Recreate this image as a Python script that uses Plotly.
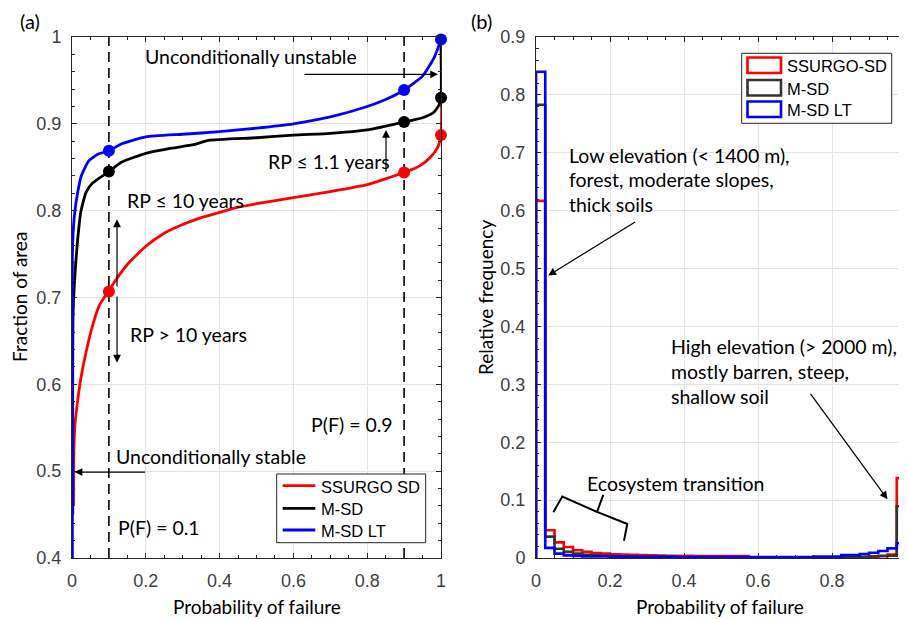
import numpy as np
import plotly.graph_objects as go

# window is 907x619; the page body has an 8px margin, so the figure is 8px smaller
OFF = 8
W, H = 907 - OFF, 619 - OFF

# ---------------- Panel (a): cumulative fraction of area ----------------
pf_ssurgo = [0.004, 0.005, 0.008, 0.015, 0.024, 0.038, 0.056, 0.074, 0.1, 0.125, 0.15, 0.2,
             0.25, 0.3, 0.35, 0.4, 0.45, 0.5, 0.6, 0.7, 0.8, 0.9, 0.94, 0.97, 0.99, 1.0, 1.0]
frac_ssurgo = [0.461, 0.522, 0.553, 0.580, 0.607, 0.637, 0.668, 0.691, 0.708, 0.724, 0.738, 0.759,
               0.774, 0.784, 0.792, 0.798, 0.804, 0.808, 0.815, 0.822, 0.830, 0.844, 0.851, 0.861,
               0.872, 0.887, 1.0]

pf_msd = [0.002, 0.003, 0.009, 0.015, 0.024, 0.038, 0.056, 0.1, 0.135, 0.2, 0.27, 0.33, 0.37, 0.5,
          0.6, 0.7, 0.8, 0.9, 0.95, 0.98, 0.995, 1.0, 1.0]
frac_msd = [0.45, 0.683, 0.733, 0.765, 0.799, 0.821, 0.832, 0.845, 0.856, 0.866, 0.872, 0.876, 0.881,
            0.884, 0.887, 0.889, 0.893, 0.902, 0.907, 0.913, 0.922, 0.930, 1.0]

pf_msdlt = [0.001, 0.001, 0.003, 0.008, 0.015, 0.025, 0.045, 0.07, 0.1, 0.135, 0.2, 0.3, 0.4, 0.5,
            0.6, 0.7, 0.8, 0.85, 0.9, 0.95, 0.98, 1.0, 1.0]
frac_msdlt = [0.40, 0.744, 0.775, 0.800, 0.820, 0.840, 0.857, 0.865, 0.869, 0.877, 0.885, 0.888,
              0.891, 0.895, 0.900, 0.908, 0.920, 0.928, 0.939, 0.955, 0.975, 0.997, 1.0]

pf_marks = [0.1, 0.9, 1.0]
marks_ssurgo = [0.707, 0.844, 0.887]
marks_msd = [0.845, 0.902, 0.930]
marks_msdlt = [0.869, 0.939, 0.997]

pf_thresholds = [0.1, 0.9]

# ---------------- Panel (b): histograms (stairs) ----------------
bin_width = 0.025
hist_ssurgo = [0.617, 0.048, 0.027, 0.019, 0.0135, 0.0105, 0.0085, 0.0075, 0.0065, 0.006,
               0.0055, 0.005, 0.0045, 0.0042, 0.004, 0.0038, 0.0036, 0.0035, 0.0035, 0.0035,
               0.0035, 0.0035, 0.0035, 0.001, 0.001, 0.001, 0.001, 0.001, 0.001, 0.001,
               0.001, 0.001, 0.001, 0.001, 0.001, 0.0015, 0.002, 0.003, 0.006, 0.138]
hist_msd = [0.783, 0.037, 0.016, 0.0105, 0.0075, 0.0055, 0.0045, 0.004, 0.0035, 0.003,
            0.0025, 0.0025, 0.0025, 0.0025, 0.0025, 0.001, 0.001, 0.001, 0.001, 0.001,
            0.001, 0.001, 0.001, 0.0007, 0.0007, 0.0007, 0.0007, 0.0007, 0.0007, 0.0007,
            0.0007, 0.0007, 0.0007, 0.001, 0.0015, 0.002, 0.003, 0.004, 0.004, 0.0895]
hist_msdlt = [0.84, 0.0175, 0.0076, 0.0045, 0.0035, 0.0028, 0.0026, 0.0025, 0.0024, 0.0023,
              0.0022, 0.0021, 0.002, 0.002, 0.002, 0.0018, 0.0017, 0.0016, 0.0016, 0.0015,
              0.0015, 0.0015, 0.0015, 0.0015, 0.0015, 0.0015, 0.0015, 0.0015, 0.0015, 0.0015,
              0.0023, 0.0023, 0.0023, 0.005, 0.005, 0.007, 0.009, 0.012, 0.0167, 0.0254]

RED, BLACK, BLUE = "#ff0000", "#000000", "#0000ff"
HBLACK = "#333333"
ANN_FONT = "Lato"
TICK_FONT = "Liberation Sans"


def px(x):
    return (x - OFF) / W


def py(y):
    return 1 - (y - OFF) / H


fig = go.Figure()

# dashed threshold lines
for t in pf_thresholds:
    fig.add_trace(go.Scatter(x=[t, t], y=[0.4, 1.0], mode="lines",
                             line=dict(color="black", width=1.6, dash="10px,6px"),
                             xaxis="x", yaxis="y", hoverinfo="skip"))

for xs, ys, col in [(pf_ssurgo, frac_ssurgo, RED),
                    (pf_msd, frac_msd, BLACK),
                    (pf_msdlt, frac_msdlt, BLUE)]:
    fig.add_trace(go.Scatter(x=xs, y=ys, mode="lines",
                             line=dict(color=col, width=2.8, shape="spline", smoothing=0.5),
                             xaxis="x", yaxis="y"))
for mk, col in [(marks_ssurgo, RED), (marks_msd, BLACK), (marks_msdlt, BLUE)]:
    fig.add_trace(go.Scatter(x=pf_marks, y=mk, mode="markers",
                             marker=dict(color=col, size=12, line=dict(width=0)),
                             xaxis="x", yaxis="y", cliponaxis=False))

# histogram stairs
nb = len(hist_ssurgo)
edges = [i * bin_width for i in range(nb + 1)]
for vals, col in [(hist_ssurgo, RED), (hist_msd, HBLACK), (hist_msdlt, BLUE)]:
    xs = [0.0] + edges
    ys = [0.0] + list(vals) + [0.0]
    fig.add_trace(go.Scatter(x=xs, y=ys, mode="lines", line=dict(color=col, width=2.6, shape="hv"),
                             xaxis="x2", yaxis="y2", cliponaxis=False))

axis_common = dict(showline=True, linecolor="#262626", linewidth=1, mirror="ticks",
                   ticks="inside", ticklen=5, tickcolor="#262626", tickwidth=1,
                   showgrid=True, gridcolor="#e3e3e3", gridwidth=1, zeroline=False,
                   tickfont=dict(family=TICK_FONT, size=18, color="#404040"),
                   ticklabelstandoff=6, automargin=False)

ydom = [py(558), py(37)]
fig.update_layout(
    width=W, height=H, margin=dict(l=0, r=0, t=0, b=0, autoexpand=False),
    paper_bgcolor="white", plot_bgcolor="white", showlegend=False,
    xaxis=dict(domain=[px(72), px(441)], range=[0, 1], dtick=0.2, anchor="y",
               minor=dict(ticks="inside", dtick=0.05, ticklen=3, tickcolor="#262626", showgrid=False),
               **axis_common),
    yaxis=dict(domain=ydom, range=[0.4, 1.0], dtick=0.1, anchor="x",
               minor=dict(ticks="inside", dtick=0.02, ticklen=3, tickcolor="#262626", showgrid=False),
               **axis_common),
    xaxis2=dict(domain=[px(536), px(906)], range=[0, 1], dtick=0.2, anchor="y2",
                minor=dict(ticks="inside", dtick=0.05, ticklen=3, tickcolor="#262626", showgrid=False),
                **axis_common),
    yaxis2=dict(domain=ydom, range=[0, 0.9], dtick=0.1, anchor="x2",
                minor=dict(ticks="inside", dtick=0.02, ticklen=3, tickcolor="#262626", showgrid=False),
                **axis_common),
)

anns = []


def text_ann(t, x, y, xref, yref, xanchor="left", yanchor="middle", size=19.5, angle=0, family=ANN_FONT):
    anns.append(dict(text=t, x=x, y=y, xref=xref, yref=yref, xanchor=xanchor, yanchor=yanchor,
                     showarrow=False, textangle=angle,
                     font=dict(family=family, size=size, color="black")))


def arrow(x0, y0, x1, y1, xr="x", yr="y"):
    anns.append(dict(text="", x=x1, y=y1, ax=x0, ay=y0, xref=xr, yref=yr, axref=xr, ayref=yr,
                     showarrow=True, arrowhead=2, arrowsize=1.3, arrowwidth=1.2, arrowcolor="black",
                     standoff=0, startstandoff=0))


# panel labels and axis titles
text_ann("(a)", px(30), py(21), "paper", "paper", xanchor="center", size=20)
text_ann("(b)", px(481), py(21), "paper", "paper", xanchor="center", size=20)
text_ann("Probability of failure", px(257), py(606), "paper", "paper", xanchor="center", size=19)
text_ann("Probability of failure", px(720), py(606), "paper", "paper", xanchor="center", size=19)
text_ann("Fraction of area", px(19), py(297), "paper", "paper", xanchor="center", size=19, angle=-90)
text_ann("Relative frequency", px(485), py(297), "paper", "paper", xanchor="center", size=19, angle=-90)

# panel (a) annotations
text_ann("Unconditionally unstable", 0.192, 0.978, "x", "y")
arrow(0.626, 0.957, 0.992, 0.957)
text_ann("RP ≤ 1.1 years", 0.526, 0.857, "x", "y")
arrow(0.851, 0.843, 0.851, 0.893)
text_ann("RP ≤ 10 years", 0.144, 0.812, "x", "y")
arrow(0.122, 0.711, 0.122, 0.790)
arrow(0.122, 0.703, 0.122, 0.625)
text_ann("RP > 10 years", 0.152, 0.657, "x", "y")
text_ann("Unconditionally stable", 0.114, 0.5164, "x", "y")
arrow(0.202, 0.499, 0.007, 0.499)
text_ann("P(F) = 0.9", 0.875, 0.5537, "x", "y", xanchor="right")
text_ann("P(F) = 0.1", 0.119, 0.435, "x", "y")

# panel (b) annotations
for i, line in enumerate(["Low elevation (< 1400 m),", "forest, moderate slopes,", "thick soils"]):
    text_ann(line, px(567), py(155 + 24.5 * i), "paper", "paper")
arrow(0.272, 0.582, 0.033, 0.488, "x2", "y2")
for i, line in enumerate(["High elevation (> 2000 m),", "mostly barren, steep,", "shallow soil"]):
    text_ann(line, px(669), py(346.7 + 25 * i), "paper", "paper")
arrow(0.739, 0.286, 0.950, 0.1016, "x2", "y2")
text_ann("Ecosystem transition", px(585), py(483.3), "paper", "paper")

shapes = []
# curly brace (panel b)
shapes.append(dict(type="path", xref="x2", yref="y2",
                   path="M 0.0468 0.0791 L 0.0711 0.1061 L 0.1649 0.0796 L 0.1819 0.1090 "
                        "M 0.1649 0.0796 L 0.2468 0.0588 L 0.2378 0.0299",
                   line=dict(color="black", width=2)))

# legend (a)
shapes.append(dict(type="rect", xref="paper", yref="paper", x0=px(276.7), x1=px(425.7),
                   y0=py(542.7), y1=py(474), line=dict(color="#262626", width=1), fillcolor="white", layer="above"))
for yy, col, lab in [(485.7, RED, "SSURGO SD"), (508.3, BLACK, "M-SD"), (530, BLUE, "M-SD LT")]:
    shapes.append(dict(type="line", xref="paper", yref="paper", x0=px(282.7), x1=px(315.3),
                       y0=py(yy), y1=py(yy), line=dict(color=col, width=2.8), layer="above"))
    text_ann(lab, px(319.3), py(yy + 1), "paper", "paper", size=16.5, family=TICK_FONT)

# legend (b)
shapes.append(dict(type="rect", xref="paper", yref="paper", x0=px(741.7), x1=px(891.7),
                   y0=py(123.3), y1=py(53.3), line=dict(color="#262626", width=1), fillcolor="white", layer="above"))
for (yt, yb), col, lab in [((57.5, 73), RED, "SSURGO-SD"), ((80, 95.5), HBLACK, "M-SD"), ((101.5, 117), BLUE, "M-SD LT")]:
    shapes.append(dict(type="rect", xref="paper", yref="paper", x0=px(747.5), x1=px(781),
                       y0=py(yb), y1=py(yt), line=dict(color=col, width=2.6), fillcolor="white", layer="above"))
    text_ann(lab, px(785), py((yt + yb) / 2 + 1), "paper", "paper", size=16.5, family=TICK_FONT)

fig.update_layout(annotations=anns, shapes=shapes)
fig.write_html("out.html")
